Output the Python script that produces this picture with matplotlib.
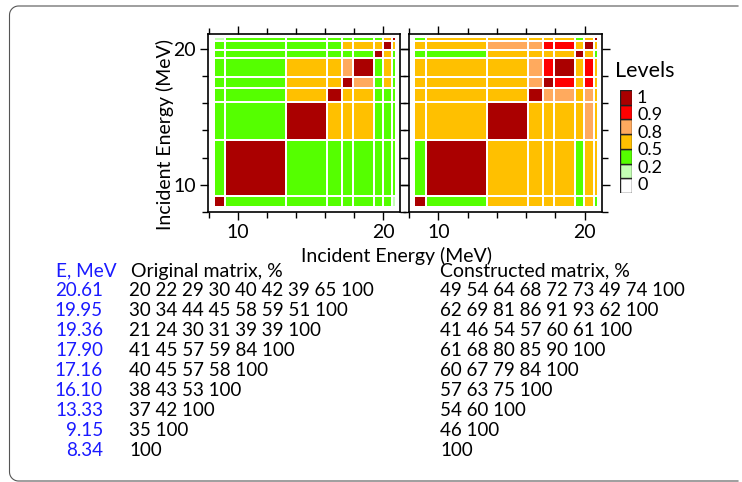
import numpy as np
import matplotlib
matplotlib.use("Agg")
import matplotlib.pyplot as plt
from matplotlib.colors import ListedColormap, BoundaryNorm
from matplotlib.patches import Rectangle
from matplotlib.lines import Line2D
from matplotlib.ticker import MultipleLocator

plt.rcParams['font.family'] = ['Lato', 'DejaVu Sans']

# -- data
energies = [8.34, 9.15, 13.33, 16.10, 17.16, 17.90, 19.36, 19.95, 20.61]
e_top = 20.9  # upper edge of last bin

# lower triangle, row i = correlations of energies[i] with energies[0..i], %
orig_rows = [
    [100],
    [35, 100],
    [37, 42, 100],
    [38, 43, 53, 100],
    [40, 45, 57, 58, 100],
    [41, 45, 57, 59, 84, 100],
    [21, 24, 30, 31, 39, 39, 100],
    [30, 34, 44, 45, 58, 59, 51, 100],
    [20, 22, 29, 30, 40, 42, 39, 65, 100],
]
cons_rows = [
    [100],
    [46, 100],
    [54, 60, 100],
    [57, 63, 75, 100],
    [60, 67, 79, 84, 100],
    [61, 68, 80, 85, 90, 100],
    [41, 46, 54, 57, 60, 61, 100],
    [62, 69, 81, 86, 91, 93, 62, 100],
    [49, 54, 64, 68, 72, 73, 49, 74, 100],
]

level_labels = ['1', '0.9', '0.8', '0.5', '0.2', '0']
level_colors = ['#ffffff', '#c4ffb4', '#55ff00', '#ffc000', '#ffaa5e', '#ff0000', '#aa0000']
level_bounds = [0, 1, 20.5, 50, 80.5, 89.5, 99.5, 100.5]


def full(rows):
    n = len(rows)
    m = np.zeros((n, n))
    for i in range(n):
        for j in range(n):
            m[i, j] = rows[max(i, j)][min(i, j)]
    return m


W, H = 742, 482
fig = plt.figure(figsize=(W / 100, H / 100), dpi=100)


def box(x0, y0, x1, y1):
    return [x0 / W, 1 - y1 / H, (x1 - x0) / W, (y1 - y0) / H]


cmap = ListedColormap(level_colors)
norm = BoundaryNorm(level_bounds, cmap.N)
edges = np.array(energies + [e_top])

ax1 = fig.add_axes(box(208, 34, 400, 212))
ax2 = fig.add_axes(box(408.5, 34, 601.5, 212))

for ax, rows in [(ax1, orig_rows), (ax2, cons_rows)]:
    ax.pcolormesh(edges, edges, full(rows), cmap=cmap, norm=norm,
                  edgecolors='white', linewidth=1.1)
    ax.set_xlim(7.95, 21.15)
    ax.set_ylim(8.0, 21.1)
    for a in (ax.xaxis, ax.yaxis):
        a.set_major_locator(MultipleLocator(10))
        a.set_minor_locator(MultipleLocator(2))
    ax.tick_params(which='both', direction='out', top=True, right=True,
                   width=1.0, labelsize=14, pad=2.5)
    ax.tick_params(which='major', length=6)
    ax.tick_params(which='minor', length=4)
    for s in ax.spines.values():
        s.set_linewidth(1.2)

ax2.tick_params(labelleft=False)

fig.text(397 / W, 1 - 256 / H, 'Incident Energy (MeV)', ha='center', va='center', fontsize=14)
fig.text(165 / W, 1 - 135 / H, 'Incident Energy (MeV)', ha='center', va='center',
         rotation=90, fontsize=14)

# -- levels legend
fig.text(615 / W, 1 - 71 / H, 'Levels', ha='left', va='center', fontsize=15.5)
axl = fig.add_axes(box(620, 90, 632, 193))
axl.set_xlim(0, 1)
axl.set_ylim(0, len(level_colors))
for k, c in enumerate(level_colors):
    axl.add_patch(Rectangle((0, k), 1, 1, facecolor=c, edgecolor='#222222', lw=1.0))
axl.axis('off')
for k, lab in enumerate(level_labels):
    fig.text(637 / W, 1 - (97.7 + 17.5 * k) / H, lab, ha='left', va='center', fontsize=13)

# -- table
blue = '#1a1aff'
fig.text(56 / W, 1 - 271 / H, 'E, MeV', color=blue, ha='left', va='center', fontsize=13.7)
fig.text(131 / W, 1 - 271 / H, 'Original matrix, %', ha='left', va='center', fontsize=14)
fig.text(440 / W, 1 - 271 / H, 'Constructed matrix, %', ha='left', va='center', fontsize=14)
for k in range(len(energies)):
    i = len(energies) - 1 - k
    y = 1 - (290 + 20 * k) / H
    fig.text(103 / W, y, '%.2f' % energies[i], color=blue, ha='right', va='center', fontsize=13.5)
    fig.text(129 / W, y, ' '.join(str(v) for v in orig_rows[i]), ha='left', va='center', fontsize=13.5)
    fig.text(440 / W, y, ' '.join(str(v) for v in cons_rows[i]), ha='left', va='center', fontsize=13.5)

# -- rounded frame, open on the right
xl, yt, yb, r = 9.5, 6.0, 481.0, 9.0
t = np.linspace(0, np.pi / 2, 12)
fx = np.concatenate([[W - 4], xl + r - r * np.sin(t), xl + r - r * np.cos(t), [W - 4]])
fy = np.concatenate([[yt], yt + r - r * np.cos(t), yb - r + r * np.sin(t), [yb]])
fig.add_artist(Line2D(fx / W, 1 - fy / H, transform=fig.transFigure,
                      color='#555555', lw=0.8))

fig.savefig('out.png', dpi=100)
